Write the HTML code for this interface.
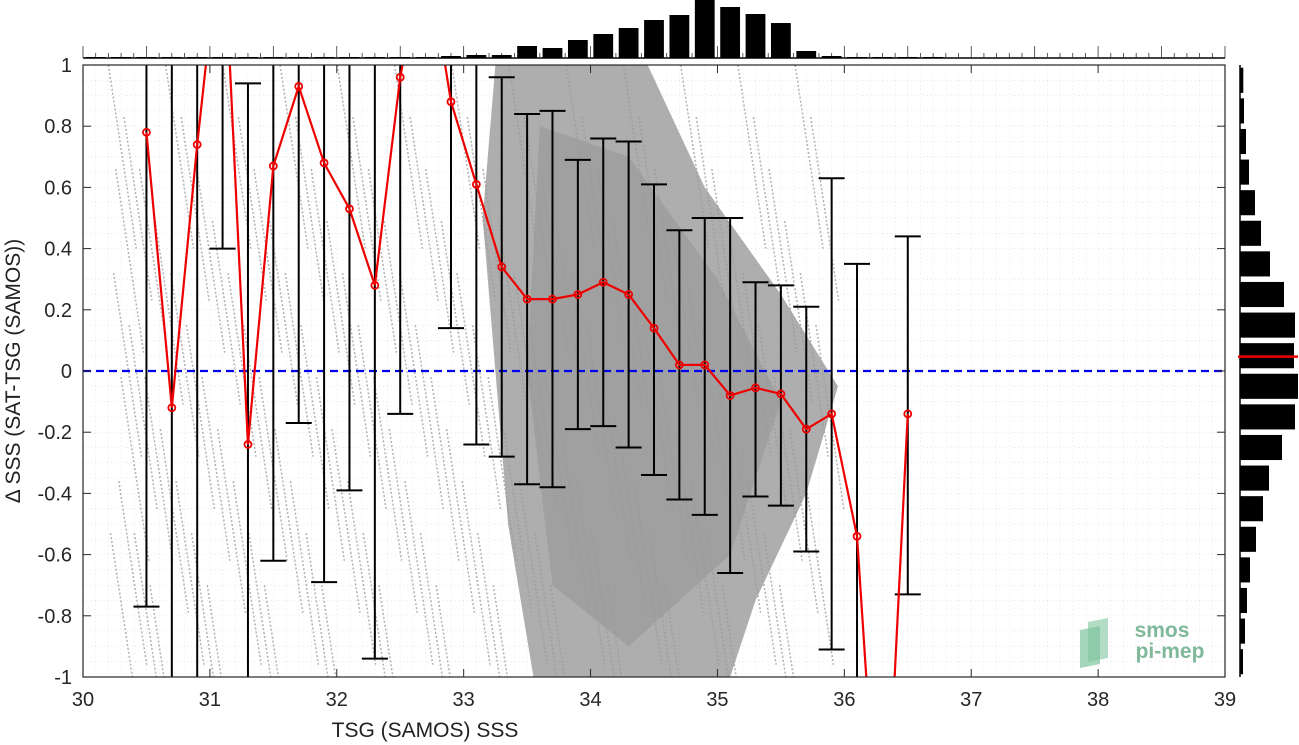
<!DOCTYPE html>
<html><head><meta charset="utf-8"><style>
html,body{margin:0;padding:0;background:#fff;overflow:hidden;width:1299px;height:745px;position:relative;}
svg{display:block;position:absolute;left:0;top:0;font-family:"Liberation Sans","DejaVu Sans",sans-serif;}
</style></head><body>
<svg id="chart" width="1299" height="745" viewBox="0 0 1299 745" overflow="hidden" xmlns="http://www.w3.org/2000/svg">
<defs><clipPath id="clip"><rect x="83" y="65" width="1142" height="612"/></clipPath></defs>
<rect x="0" y="0" width="1299" height="745" fill="#fff"/>
<g id="grid"></g>
<g id="scatter" clip-path="url(#clip)"></g>
<g id="zeroline"></g>
<g id="errbars" clip-path="url(#clip)"></g>
<g id="meanline" clip-path="url(#clip)"></g>
<g id="axes"></g>
<g id="tophist"></g>
<g id="righthist"></g>
<g>
 <polygon points="1088,622 1108,618 1108,658 1088,662" fill="#9fd4b5" opacity="0.8"/>
 <polygon points="1080,630 1100,626 1100,664 1080,668" fill="#7fc39c" opacity="0.7"/>
 <text x="1162" y="637" fill="#7fb99a" font-size="21" font-weight="bold" text-anchor="middle">smos</text>
 <text x="1170" y="658" fill="#7fb99a" font-size="21" font-weight="bold" text-anchor="middle">pi-mep</text>
</g>
<text x="425" y="737" font-size="21" fill="#222" text-anchor="middle">TSG (SAMOS) SSS</text>
<text transform="translate(20,371) rotate(-90)" font-size="21" fill="#222" text-anchor="middle">Δ SSS (SAT-TSG (SAMOS))</text>
</svg>
<script>
const xCenters=[30.5,30.7,30.9,31.1,31.3,31.5,31.7,31.9,32.1,32.3,32.5,32.7,32.9,33.1,33.3,33.5,33.7,33.9,34.1,34.3,34.5,34.7,34.9,35.1,35.3,35.5,35.7,35.9,36.1,36.3,36.5];
const meanVals=[0.78,-0.12,0.74,1.5,-0.24,0.67,0.93,0.68,0.53,0.28,0.96,1.4,0.88,0.61,0.34,0.235,0.235,0.25,0.29,0.25,0.14,0.02,0.02,-0.08,-0.055,-0.075,-0.19,-0.14,-0.54,-1.8,-0.14];
const errLow=[-0.77,-1.6,-1.5,0.40,-1.5,-0.62,-0.17,-0.69,-0.39,-0.94,-0.14,1.1,0.14,-0.24,-0.28,-0.37,-0.38,-0.19,-0.18,-0.25,-0.34,-0.42,-0.47,-0.66,-0.41,-0.44,-0.59,-0.91,-1.5,-2.5,-0.73];
const errHigh=[1.5,1.6,1.5,1.6,0.94,1.5,1.5,1.5,1.5,1.5,1.5,1.7,1.5,1.5,0.96,0.84,0.85,0.69,0.76,0.75,0.61,0.46,0.50,0.50,0.29,0.28,0.21,0.63,0.35,-1.1,0.44];
const topHistCenters=[30.1,30.3,30.5,30.7,30.9,31.1,31.3,31.5,31.7,31.9,32.1,32.3,32.5,32.7,32.9,33.1,33.3,33.5,33.7,33.9,34.1,34.3,34.5,34.7,34.9,35.1,35.3,35.5,35.7,35.9,36.1,36.3,36.5,36.7,36.9];
const topHistVals=[1,1,1,1,1,1,1,1,1,1,1,1,1,1,2,3,3,12,10,18,24,30,38,43,58,51,44,35,7,2,1,1,1,1,0];
const rightHistEdges=[1,0.9,0.8,0.7,0.6,0.5,0.4,0.3,0.2,0.1,0,-0.1,-0.2,-0.3,-0.4,-0.5,-0.6,-0.7,-0.8,-0.9];
const rightHistVals=[3.3,4,6,9,15,21,30,44,55,54,58,55,42,29,23,16,10,7,5,3];
const xTicks=[30,31,32,33,34,35,36,37,38,39];
const yTicks=[1,0.8,0.6,0.4,0.2,0,-0.2,-0.4,-0.6,-0.8,-1];
const yTickLabels=["1","0.8","0.6","0.4","0.2","0","-0.2","-0.4","-0.6","-0.8","-1"];
const rightHistMedian=0.047;

const NS="http://www.w3.org/2000/svg";
const X0=83,X1=1225,Y0=677,Y1=65;
const sx=v=>X0+(v-30)/9*(X1-X0);
const sy=v=>Y0-(v+1)/2*(Y0-Y1);
function mk(tag,attrs,parent){const e=document.createElementNS(NS,tag);for(const k in attrs)e.setAttribute(k,attrs[k]);parent.appendChild(e);return e;}
const g=id=>document.getElementById(id);

for(let v=30.1;v<39;v+=0.1){const l=mk('line',{x1:sx(v),x2:sx(v),y1:Y1,y2:Y0,stroke:'#e4e4e4','stroke-width':0.8,'stroke-dasharray':'1,3'},g('grid'));

}
for(let v=-0.95;v<1;v+=0.05){const l=mk('line',{x1:X0,x2:X1,y1:sy(v),y2:sy(v),stroke:'#e4e4e4','stroke-width':0.8,'stroke-dasharray':'1,3'},g('grid'));

}

const sc=g('scatter');
const poly=mk('polygon',{points:[[33.25,1],[34.45,1],[34.9,0.6],[35.5,0.25],[35.95,-0.05],[35.7,-0.4],[35.3,-0.75],[35.1,-1],[33.55,-1],[33.35,-0.5],[33.25,0],[33.15,0.5]].map(p=>sx(p[0])+','+sy(p[1])).join(' '),fill:'#8c8c8c',opacity:0.7},sc);


const core=mk('polygon',{points:[[33.6,0.8],[34.3,0.7],[35.0,0.3],[35.5,-0.1],[35.1,-0.6],[34.3,-0.9],[33.7,-0.7],[33.5,0.0]].map(p=>sx(p[0])+','+sy(p[1])).join(' '),fill:'#808080',opacity:0.3},sc);


for(let i=0;i<140;i++){const xs=30.2+(i*0.041)%5.6;const ys=1.0-((i*37)%11)*0.17;
const ln=mk('line',{x1:sx(xs),y1:sy(ys),x2:sx(xs+0.22),y2:sy(ys-0.6),stroke:'#999','stroke-width':1.5,'stroke-dasharray':'2,2',opacity:0.75},sc);

}

const z=mk('line',{x1:X0,x2:X1,y1:sy(0),y2:sy(0),stroke:'#0000ee','stroke-width':2.2,'stroke-dasharray':'8,5'},g('zeroline'));



xCenters.forEach((x,i)=>{
 const eb=mk('g',{},g('errbars'));
 
 
 const cx=sx(x);
 mk('line',{x1:cx,x2:cx,y1:sy(errLow[i]),y2:sy(errHigh[i]),stroke:'#000','stroke-width':2},eb);
 [errLow[i],errHigh[i]].forEach(v=>mk('line',{x1:cx-13,x2:cx+13,y1:sy(v),y2:sy(v),stroke:'#000','stroke-width':2},eb));
});
const pl=mk('polyline',{points:xCenters.map((x,i)=>sx(x)+','+sy(meanVals[i])).join(' '),fill:'none',stroke:'#ee0000','stroke-width':2.2},g('meanline'));


xCenters.forEach((x,i)=>{const c=mk('circle',{cx:sx(x),cy:sy(meanVals[i]),r:3.5,fill:'none',stroke:'#ee0000','stroke-width':1.8},g('meanline'));

});

const ax=g('axes');
mk('rect',{x:X0,y:Y1,width:X1-X0,height:Y0-Y1,fill:'none',stroke:'#262626','stroke-width':1.2},ax);
xTicks.forEach(v=>{mk('line',{x1:sx(v),x2:sx(v),y1:Y0,y2:Y0-8,stroke:'#262626'},ax);mk('line',{x1:sx(v),x2:sx(v),y1:Y1,y2:Y1+8,stroke:'#262626'},ax);
const t=mk('text',{x:sx(v),y:706,'font-size':20,fill:'#262626','text-anchor':'middle'},ax);t.textContent=v;

});
yTicks.forEach((v,i)=>{mk('line',{x1:X0,x2:X0+8,y1:sy(v),y2:sy(v),stroke:'#262626'},ax);mk('line',{x1:X1,x2:X1-8,y1:sy(v),y2:sy(v),stroke:'#262626'},ax);
const t=mk('text',{x:72,y:sy(v)+7,'font-size':20,fill:'#262626','text-anchor':'end'},ax);t.textContent=yTickLabels[i];

});

const th=g('tophist');const base=58,bw=(sx(30.2)-sx(30))*0.78;
mk('line',{x1:X0,x2:X1,y1:base,y2:base,stroke:'#000','stroke-width':1.5},th);
for(let v=30;v<=39.001;v+=0.1)mk('line',{x1:sx(v),x2:sx(v),y1:base,y2:base-(Math.abs(v*2-Math.round(v*2))<0.01?12:5),stroke:'#333','stroke-width':0.8},th);
topHistCenters.forEach((c,i)=>{if(topHistVals[i]<=0)return;const r=mk('rect',{x:sx(c)-bw/2,y:base-topHistVals[i],width:bw,height:topHistVals[i],fill:'#000'},th);

});

const rh=g('righthist');const rx=1240,bh=(sy(0)-sy(0.1))*0.82;
mk('line',{x1:rx,x2:rx,y1:Y1,y2:Y0,stroke:'#000','stroke-width':1.5},rh);
rightHistEdges.forEach((e,i)=>{const r=mk('rect',{x:rx,y:sy(e-0.05)-bh/2,width:rightHistVals[i],height:bh,fill:'#000'},rh);

});
const med=mk('line',{x1:rx-2,x2:1298,y1:sy(rightHistMedian),y2:sy(rightHistMedian),stroke:'#ee0000','stroke-width':2.5},rh);


</script>
</body></html>
